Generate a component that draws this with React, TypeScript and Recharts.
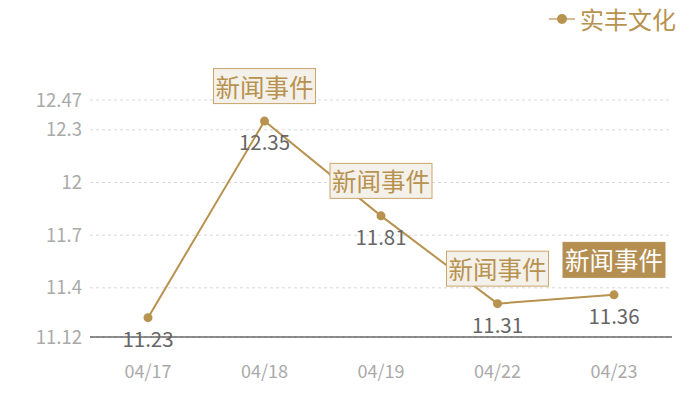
import { LineChart, Line, XAxis, YAxis, CartesianGrid, LabelList } from 'recharts'

const GOLD = '#b8924f'
const FONT = '"Noto Sans CJK SC", "Noto Sans", sans-serif'

const dates = ['04/17', '04/18', '04/19', '04/22', '04/23']
const prices = [11.23, 12.35, 11.81, 11.31, 11.36]
// 哪些交易日有新闻事件，以及当前选中的那一个
const eventDates = ['04/18', '04/19', '04/22', '04/23']
const activeEvent = '04/23'
const yTicks = [11.12, 11.4, 11.7, 12, 12.3, 12.47]
const seriesName = '实丰文化'

const data = dates.map((date, i) => ({ date, price: prices[i] }))

// eslint-disable-next-line @typescript-eslint/no-explicit-any
function ValueLabel({ x, y, value }: any) {
  return (
    <text x={x} y={y + 20} textAnchor="middle" dominantBaseline="central" fontSize={20.5} fill="#666" fontFamily={FONT}>
      {value}
    </text>
  )
}

// eslint-disable-next-line @typescript-eslint/no-explicit-any
function EventLabel({ x, y, index }: any) {
  const date = dates[index]
  if (!eventDates.includes(date)) return null
  const active = date === activeEvent
  const w = 102
  const h = 35
  return (
    <g>
      <rect
        x={x - w / 2}
        y={y - 35 - h / 2}
        width={w}
        height={h}
        fill={active ? '#b58f52' : '#f4f0ea'}
        stroke={active ? '#b58f52' : '#c9a66b'}
        strokeWidth={1}
      />
      <text
        x={x}
        y={y - 35}
        textAnchor="middle"
        dominantBaseline="central"
        fontSize={24.5}
        fill={active ? '#fff' : GOLD}
        fontFamily={FONT}
      >
        新闻事件
      </text>
    </g>
  )
}

function LegendBox() {
  return (
    <div
      style={{
        position: 'absolute',
        top: 3,
        right: 24,
        display: 'flex',
        alignItems: 'center',
        fontFamily: FONT,
        color: GOLD,
        fontSize: 24,
        lineHeight: '32px',
      }}
    >
      <svg width={26} height={12} style={{ marginRight: 5 }}>
        <line x1={0} y1={6} x2={26} y2={6} stroke={GOLD} strokeWidth={2} opacity={0.6} />
        <circle cx={13} cy={6} r={5} fill={GOLD} />
      </svg>
      {seriesName}
    </div>
  )
}

export default function App() {
  return (
    <div style={{ position: 'absolute', left: 0, top: 0, width: 700, height: 400, background: '#fff' }}>
      <LineChart width={700} height={400} data={data} margin={{ top: 100, right: 28, bottom: 0, left: 0 }}>
        <CartesianGrid vertical={false} stroke="#d8d8d8" strokeDasharray="3 3" />
        <XAxis
          dataKey="date"
          height={63}
          padding={{ left: 58, right: 58 }}
          stroke="#222"
          axisLine={{ stroke: '#222', strokeWidth: 1.2 }}
          tickLine={false}
          tickMargin={22}
          tick={{ fontSize: 18, fill: '#aaa', fontFamily: FONT }}
        />
        <YAxis
          width={90}
          domain={[11.12, 12.47]}
          ticks={yTicks}
          axisLine={false}
          tickLine={false}
          tickMargin={2}
          tick={{ fontSize: 18.5, fill: '#aaa', fontFamily: FONT }}
        />
        <Line
          type="linear"
          dataKey="price"
          name={seriesName}
          stroke={GOLD}
          strokeWidth={2}
          dot={{ r: 4.5, fill: GOLD, stroke: 'none' }}
          activeDot={false}
          isAnimationActive={false}
        >
          <LabelList dataKey="price" content={<ValueLabel />} />
          <LabelList dataKey="price" content={<EventLabel />} />
        </Line>
      </LineChart>
      <LegendBox />
    </div>
  )
}
